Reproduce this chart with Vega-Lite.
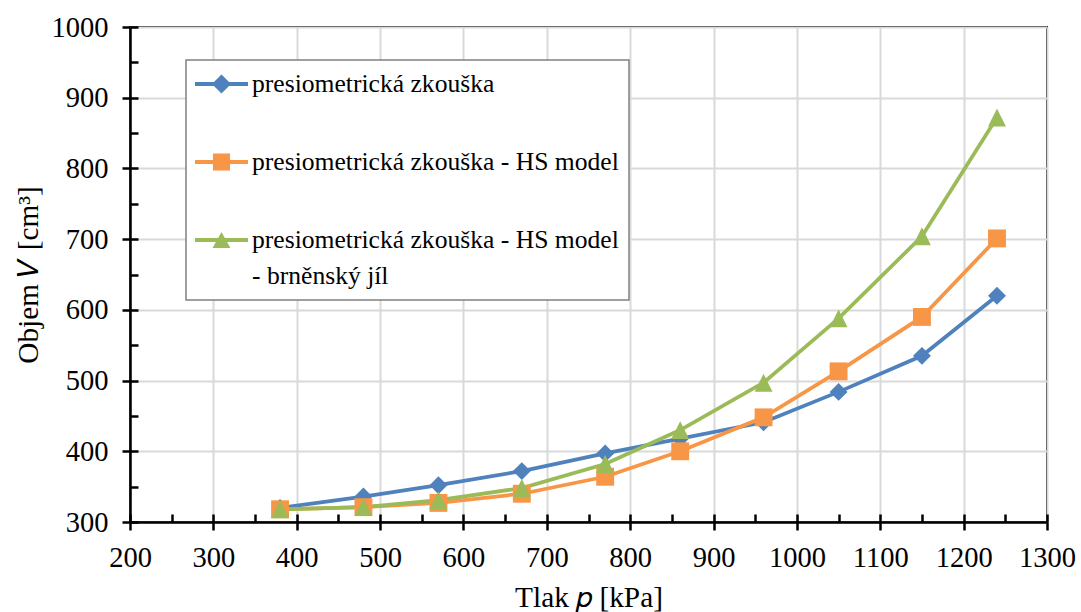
{
  "$schema": "https://vega.github.io/schema/vega-lite/v6.json",
  "width": 917,
  "height": 495,
  "autosize": {"type": "none"},
  "padding": {"left": 130, "top": 27, "right": 34, "bottom": 90},
  "background": "white",
  "config": {
    "view": {"stroke": "black", "strokeWidth": 2},
    "font": "Liberation Serif",
    "style": {
      "guide-label": {"lineHeight": 36}
    },
    "legend": {
      "orient": "none",
      "legendX": 56,
      "legendY": 33,
      "padding": 10,
      "fillColor": "white",
      "strokeColor": "#808080",
      "strokeWidth": 1.5,
      "symbolSize": 784,
      "symbolStrokeWidth": 0,
      "symbolOffset": 11.5,
      "labelOffset": 16.5,
      "labelFont": "Times New Roman",
      "labelFontWeight": "normal",
      "labelFontSize": 25.6,
      "labelColor": "black",
      "labelLimit": 0,
      "rowPadding": 50,
      "symbolOpacity": 1
    }
  },
  "data": {
    "values": [
      {"s": "presiometrická zkouška", "p": 380, "v": 320},
      {"s": "presiometrická zkouška", "p": 480, "v": 336},
      {"s": "presiometrická zkouška", "p": 570, "v": 352},
      {"s": "presiometrická zkouška", "p": 670, "v": 372},
      {"s": "presiometrická zkouška", "p": 770, "v": 397},
      {"s": "presiometrická zkouška", "p": 860, "v": 418},
      {"s": "presiometrická zkouška", "p": 960, "v": 441},
      {"s": "presiometrická zkouška", "p": 1050, "v": 484},
      {"s": "presiometrická zkouška", "p": 1150, "v": 535},
      {"s": "presiometrická zkouška", "p": 1240, "v": 620},
      {"s": "presiometrická zkouška - HS model", "p": 380, "v": 318},
      {"s": "presiometrická zkouška - HS model", "p": 480, "v": 321},
      {"s": "presiometrická zkouška - HS model", "p": 570, "v": 327},
      {"s": "presiometrická zkouška - HS model", "p": 670, "v": 340},
      {"s": "presiometrická zkouška - HS model", "p": 770, "v": 364},
      {"s": "presiometrická zkouška - HS model", "p": 860, "v": 400},
      {"s": "presiometrická zkouška - HS model", "p": 960, "v": 448},
      {"s": "presiometrická zkouška - HS model", "p": 1050, "v": 513},
      {"s": "presiometrická zkouška - HS model", "p": 1150, "v": 590},
      {"s": "presiometrická zkouška - HS model", "p": 1240, "v": 701},
      {"s": "presiometrická zkouška - HS model - brněnský jíl", "p": 380, "v": 318},
      {"s": "presiometrická zkouška - HS model - brněnský jíl", "p": 480, "v": 321},
      {"s": "presiometrická zkouška - HS model - brněnský jíl", "p": 570, "v": 331},
      {"s": "presiometrická zkouška - HS model - brněnský jíl", "p": 670, "v": 348},
      {"s": "presiometrická zkouška - HS model - brněnský jíl", "p": 770, "v": 382},
      {"s": "presiometrická zkouška - HS model - brněnský jíl", "p": 860, "v": 430},
      {"s": "presiometrická zkouška - HS model - brněnský jíl", "p": 960, "v": 497},
      {"s": "presiometrická zkouška - HS model - brněnský jíl", "p": 1050, "v": 588},
      {"s": "presiometrická zkouška - HS model - brněnský jíl", "p": 1150, "v": 704},
      {"s": "presiometrická zkouška - HS model - brněnský jíl", "p": 1240, "v": 872}
    ]
  },
  "resolve": {
    "scale": {"color": "independent", "shape": "independent"},
    "axis": {"x": "independent", "y": "independent"}
  },
  "layer": [
    {
      "mark": {"type": "line", "strokeWidth": 3.75},
      "encoding": {
        "x": {
          "field": "p", "type": "quantitative",
          "scale": {"domain": [200, 1300], "nice": false, "zero": false},
          "axis": {
            "orient": "bottom",
            "values": [200, 300, 400, 500, 600, 700, 800, 900, 1000, 1100, 1200, 1300],
            "format": "d",
            "title": "Tlak 𝑝 [kPa]",
            "titleFont": "Liberation Serif", "titleFontSize": 29.3, "titleFontWeight": "normal", "titleColor": "black",
            "titlePadding": 12,
            "labelFont": "Times New Roman", "labelFontWeight": "normal", "labelFontSize": 28.5, "labelColor": "black", "labelPadding": 13,
            "labelFlush": false, "labelOverlap": false,
            "tickColor": "black", "tickWidth": 2.5, "tickSize": 8,
            "domainColor": "black", "domainWidth": 2.5,
            "grid": true, "gridColor": "#d9d9d9", "gridWidth": 2
          }
        },
        "y": {
          "field": "v", "type": "quantitative",
          "scale": {"domain": [300, 1000], "nice": false, "zero": false},
          "axis": {
            "orient": "left",
            "values": [300, 400, 500, 600, 700, 800, 900, 1000],
            "format": "d",
            "title": "Objem 𝑉 [cm³]",
            "titleFont": "Liberation Serif", "titleFontSize": 29.3, "titleFontWeight": "normal", "titleColor": "black",
            "titlePadding": 8,
            "labelFont": "Times New Roman", "labelFontWeight": "normal", "labelFontSize": 28.5, "labelColor": "black", "labelPadding": 14,
            "labelFlush": false, "labelOverlap": false,
            "tickColor": "black", "tickWidth": 2.5, "tickSize": 8,
            "domainColor": "black", "domainWidth": 2.5,
            "grid": true, "gridColor": "#d9d9d9", "gridWidth": 2
          }
        },
        "color": {
          "field": "s", "type": "nominal",
          "scale": {
            "domain": ["presiometrická zkouška", "presiometrická zkouška - HS model", "presiometrická zkouška - HS model - brněnský jíl"],
            "range": ["#4f81bd", "#f79646", "#9bbb59"]
          },
          "legend": null
        }
      }
    },
    {
      "mark": {"type": "point", "filled": true, "opacity": 1, "size": 320, "strokeWidth": 0},
      "encoding": {
        "x": {
          "field": "p", "type": "quantitative",
          "axis": {
            "orient": "bottom",
            "values": [200, 250, 300, 350, 400, 450, 500, 550, 600, 650, 700, 750, 800, 850, 900, 950, 1000, 1050, 1100, 1150, 1200, 1250, 1300],
            "title": null, "labels": false, "domain": false, "grid": false,
            "offset": -8, "tickSize": 8, "tickColor": "black", "tickWidth": 2.5
          }
        },
        "y": {
          "field": "v", "type": "quantitative",
          "axis": {
            "orient": "left",
            "values": [300, 350, 400, 450, 500, 550, 600, 650, 700, 750, 800, 850, 900, 950, 1000],
            "title": null, "labels": false, "domain": false, "grid": false,
            "offset": -8, "tickSize": 8, "tickColor": "black", "tickWidth": 2.5
          }
        },
        "color": {
          "field": "s", "type": "nominal",
          "scale": {
            "domain": ["presiometrická zkouška", "presiometrická zkouška - HS model", "presiometrická zkouška - HS model - brněnský jíl"],
            "range": ["#4f81bd", "#f79646", "#9bbb59"]
          },
          "legend": null
        },
        "shape": {
          "field": "s", "type": "nominal",
          "scale": {
            "domain": ["presiometrická zkouška", "presiometrická zkouška - HS model", "presiometrická zkouška - HS model - brněnský jíl"],
            "range": ["M0,-1L1,0L0,1L-1,0Z", "square", "M0,-1L1,1L-1,1Z"]
          },
          "legend": null
        }
      }
    },
    {
      "transform": [{"filter": "datum.p < 0"}],
      "mark": {"type": "point", "filled": true, "opacity": 1},
      "encoding": {
        "color": {
          "field": "s", "type": "nominal",
          "scale": {
            "domain": ["presiometrická zkouška", "presiometrická zkouška - HS model", "presiometrická zkouška - HS model - brněnský jíl"],
            "range": ["#4f81bd", "#f79646", "#9bbb59"]
          },
          "legend": {
            "title": null,
            "labelFont": "Times New Roman",
            "labelExpr": "datum.label == 'presiometrická zkouška - HS model - brněnský jíl' ? ['presiometrická zkouška - HS model', '- brněnský jíl'] : datum.label"
          }
        },
        "shape": {
          "field": "s", "type": "nominal",
          "scale": {
            "domain": ["presiometrická zkouška", "presiometrická zkouška - HS model", "presiometrická zkouška - HS model - brněnský jíl"],
            "range": [
              "M-1.893,-0.134H1.893V0.134H-1.893Z M0,-0.68L0.68,0L0,0.68L-0.68,0Z",
              "M-1.893,-0.134H1.893V0.134H-1.893Z M-0.61,-0.61H0.61V0.61H-0.61Z",
              "M-1.893,-0.134H1.893V0.134H-1.893Z M0,-0.57L0.64,0.57L-0.64,0.57Z"
            ]
          },
          "legend": {
            "title": null,
            "labelFont": "Times New Roman",
            "labelExpr": "datum.label == 'presiometrická zkouška - HS model - brněnský jíl' ? ['presiometrická zkouška - HS model', '- brněnský jíl'] : datum.label"
          }
        }
      }
    }
  ]
}
